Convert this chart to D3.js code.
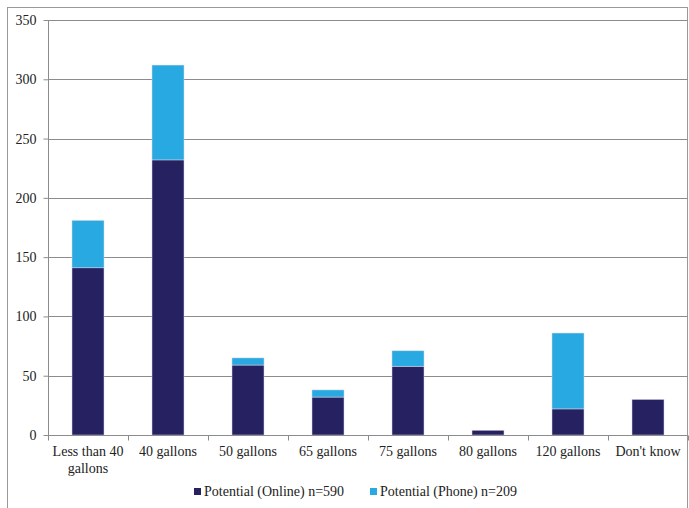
<!DOCTYPE html>
<html><head><meta charset="utf-8">
<script src="https://cdn.jsdelivr.net/npm/d3@7"></script>
<style>body{margin:0;background:#fff;} svg text{font-family:"Liberation Serif","Times New Roman","DejaVu Serif",serif !important;}</style>
</head><body><svg id="c" width="689" height="508"></svg>
<script>
const categories = ["Less than 40 gallons","40 gallons","50 gallons","65 gallons","75 gallons","80 gallons","120 gallons","Don't know"];
const online = [141, 232, 59, 32, 58, 4, 22, 30];
const phone = [40, 80, 6, 6, 13, 0, 64, 0];
const seriesNames = ["Potential (Online) n=590", "Potential (Phone) n=209"];
const colors = ["#262262", "#29a9e1"];
const yTicks = [0,50,100,150,200,250,300,350];

const svg = d3.select("#c");
const m = {l:48, r:1, t:20, b:73};
svg.append("rect").attr("x",7.5).attr("y",7.5).attr("width",680).attr("height",520)
  .attr("fill","none").attr("stroke","#999").attr("stroke-width",1);

const x = d3.scaleBand().domain(categories).range([m.l, 688]).paddingInner(0.6).paddingOuter(0.3);
const y = d3.scaleLinear().domain([0,350]).range([435, 20]);

const data = categories.map((c,i)=>({cat:c, online:online[i], phone:phone[i]}));
const stack = d3.stack().keys(["online","phone"])(data);

svg.append("g").selectAll("line").data(yTicks.filter(d=>d>0)).join("line")
  .attr("x1",m.l).attr("x2",688).attr("y1",d=>Math.round(y(d))+0.5).attr("y2",d=>Math.round(y(d))+0.5)
  .attr("stroke","#8c8c8c").attr("stroke-width",1);

svg.append("g").selectAll("g").data(stack).join("g").attr("fill",(d,i)=>colors[i])
  .selectAll("rect").data(d=>d.filter(e=>e[1]-e[0]>0)).join("rect")
  .attr("x",d=>x(d.data.cat)).attr("width",x.bandwidth())
  .attr("y",d=>y(d[1])).attr("height",d=>y(d[0])-y(d[1]))
  .attr("stroke","#d8d8e8").attr("stroke-width",0.5);

const ya = svg.append("g").attr("transform",`translate(${m.l+0.5},0)`)
  .call(d3.axisLeft(y).tickValues(yTicks).tickSize(5).tickPadding(7));
ya.attr("font-family",null);
ya.select(".domain").attr("stroke","#8c8c8c").attr("d",`M0,${y(350)}V${y(0)}`);
ya.selectAll(".tick line").attr("stroke","#8c8c8c");
ya.selectAll("text").attr("font-size",14).attr("fill","#222");

const xa = svg.append("g").attr("transform",`translate(0,${y(0)+0.5})`)
  .call(d3.axisBottom(x).tickSize(0).tickPadding(10));
xa.select(".domain").attr("stroke","#8c8c8c").attr("d",`M${m.l},0H688`);
xa.selectAll(".tick text").remove();
const bounds = [m.l].concat(categories.map(c=>x(c)+x.bandwidth()/2+x.step()/2));
xa.selectAll(".sep").data(bounds).join("line").attr("class","sep")
  .attr("x1",d=>Math.round(d)+0.5).attr("x2",d=>Math.round(d)+0.5).attr("y1",0).attr("y2",5).attr("stroke","#8c8c8c");
const labelLines = {"Less than 40 gallons":["Less than 40","gallons"]};
categories.forEach(c=>{
  const lines = labelLines[c] || [c];
  const t = svg.append("text").attr("x",x(c)+x.bandwidth()/2).attr("y",456)
    .attr("text-anchor","middle").attr("font-size",14).attr("fill","#222");
  lines.forEach((l,i)=>t.append("tspan").attr("x",x(c)+x.bandwidth()/2).attr("dy",i?17:0).text(l));
});

const legX = [194, 370];
seriesNames.forEach((s,i)=>{
  svg.append("rect").attr("x",legX[i]).attr("y",488).attr("width",7).attr("height",7).attr("fill",colors[i]);
  svg.append("text").attr("x",legX[i]+10).attr("y",496).attr("font-size",14).attr("fill","#222").text(s);
});
</script></body></html>
